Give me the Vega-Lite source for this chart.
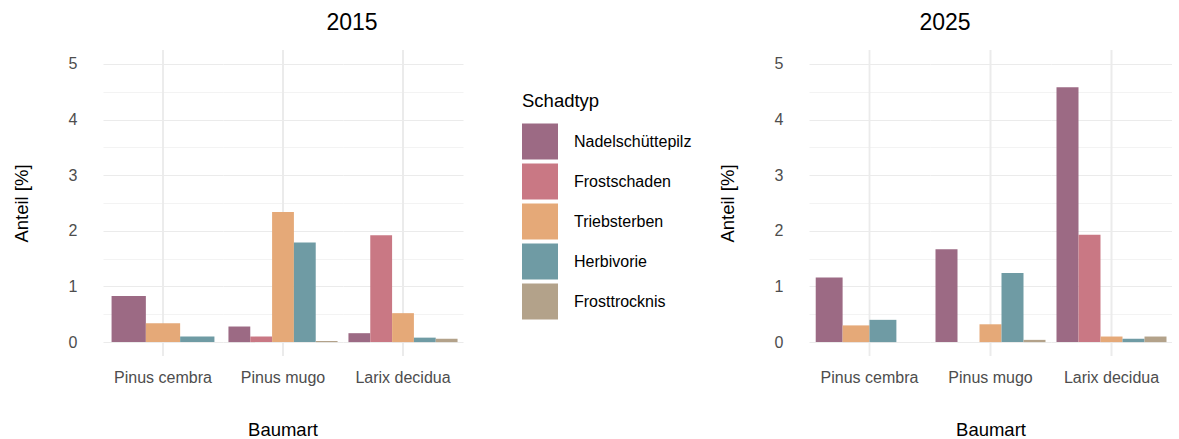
{
  "$schema": "https://vega.github.io/schema/vega-lite/v6.json",
  "background": "white",
  "padding": {"left": 12, "top": 12, "right": 0, "bottom": 0},
  "config": {
    "font": "Liberation Sans",
    "view": {"stroke": null},
    "title": {"fontSize": 23, "fontWeight": "normal", "color": "black", "anchor": "middle", "offset": 14}
  },
  "data": {
    "values": [
      {"Jahr": 2015, "Baumart": "Pinus cembra", "Schadtyp": "Nadelschüttepilz", "Anteil": 0.83},
      {"Jahr": 2015, "Baumart": "Pinus cembra", "Schadtyp": "Triebsterben", "Anteil": 0.34},
      {"Jahr": 2015, "Baumart": "Pinus cembra", "Schadtyp": "Herbivorie", "Anteil": 0.1},
      {"Jahr": 2015, "Baumart": "Pinus mugo", "Schadtyp": "Nadelschüttepilz", "Anteil": 0.28},
      {"Jahr": 2015, "Baumart": "Pinus mugo", "Schadtyp": "Frostschaden", "Anteil": 0.1},
      {"Jahr": 2015, "Baumart": "Pinus mugo", "Schadtyp": "Triebsterben", "Anteil": 2.34},
      {"Jahr": 2015, "Baumart": "Pinus mugo", "Schadtyp": "Herbivorie", "Anteil": 1.79},
      {"Jahr": 2015, "Baumart": "Pinus mugo", "Schadtyp": "Frosttrocknis", "Anteil": 0.02},
      {"Jahr": 2015, "Baumart": "Larix decidua", "Schadtyp": "Nadelschüttepilz", "Anteil": 0.16},
      {"Jahr": 2015, "Baumart": "Larix decidua", "Schadtyp": "Frostschaden", "Anteil": 1.92},
      {"Jahr": 2015, "Baumart": "Larix decidua", "Schadtyp": "Triebsterben", "Anteil": 0.52},
      {"Jahr": 2015, "Baumart": "Larix decidua", "Schadtyp": "Herbivorie", "Anteil": 0.08},
      {"Jahr": 2015, "Baumart": "Larix decidua", "Schadtyp": "Frosttrocknis", "Anteil": 0.06},
      {"Jahr": 2025, "Baumart": "Pinus cembra", "Schadtyp": "Nadelschüttepilz", "Anteil": 1.16},
      {"Jahr": 2025, "Baumart": "Pinus cembra", "Schadtyp": "Triebsterben", "Anteil": 0.3},
      {"Jahr": 2025, "Baumart": "Pinus cembra", "Schadtyp": "Herbivorie", "Anteil": 0.4},
      {"Jahr": 2025, "Baumart": "Pinus cembra", "Schadtyp": "Frosttrocknis", "Anteil": 0},
      {"Jahr": 2025, "Baumart": "Pinus mugo", "Schadtyp": "Nadelschüttepilz", "Anteil": 1.67},
      {"Jahr": 2025, "Baumart": "Pinus mugo", "Schadtyp": "Frostschaden", "Anteil": 0},
      {"Jahr": 2025, "Baumart": "Pinus mugo", "Schadtyp": "Triebsterben", "Anteil": 0.32},
      {"Jahr": 2025, "Baumart": "Pinus mugo", "Schadtyp": "Herbivorie", "Anteil": 1.24},
      {"Jahr": 2025, "Baumart": "Pinus mugo", "Schadtyp": "Frosttrocknis", "Anteil": 0.04},
      {"Jahr": 2025, "Baumart": "Larix decidua", "Schadtyp": "Nadelschüttepilz", "Anteil": 4.58},
      {"Jahr": 2025, "Baumart": "Larix decidua", "Schadtyp": "Frostschaden", "Anteil": 1.93},
      {"Jahr": 2025, "Baumart": "Larix decidua", "Schadtyp": "Triebsterben", "Anteil": 0.1},
      {"Jahr": 2025, "Baumart": "Larix decidua", "Schadtyp": "Herbivorie", "Anteil": 0.06},
      {"Jahr": 2025, "Baumart": "Larix decidua", "Schadtyp": "Frosttrocknis", "Anteil": 0.1}
    ]
  },
  "spacing": 26,
  "resolve": {"legend": {"color": "independent"}},
  "hconcat": [
    {
      "transform": [{"filter": "datum.Jahr === 2015"}],
      "title": {"text": "2015"},
      "facet": {
        "column": {
          "field": "Baumart", "type": "nominal",
          "sort": ["Pinus cembra", "Pinus mugo", "Larix decidua"],
          "header": {
            "title": "Baumart", "titleOrient": "bottom", "labelOrient": "bottom",
            "labelFontSize": 16, "labelColor": "#4D4D4D", "labelPadding": 13,
            "titleFontSize": 18.5, "titleColor": "black", "titleFontWeight": "normal", "titlePadding": 25
          }
        }
      },
      "spacing": 0,
      "resolve": {"scale": {"x": "independent"}},
      "spec": {
        "width": 120,
        "height": 306,
        "resolve": {"scale": {"x": "independent"}},
        "layer": [
          {
            "mark": {"type": "rule", "color": "#EBEBEB", "strokeWidth": 1.2},
            "encoding": {"x": {"field": "Baumart", "type": "nominal", "axis": null}}
          },
          {
            "mark": {"type": "bar"},
            "encoding": {
              "x": {
                "field": "Schadtyp", "type": "nominal", "axis": null,
                "sort": ["Nadelschüttepilz", "Frostschaden", "Triebsterben", "Herbivorie", "Frosttrocknis"],
                "scale": {"paddingInner": 0, "paddingOuter": 0.25}
              },
              "y": {
                "field": "Anteil", "type": "quantitative", "title": "Anteil [%]",
                "scale": {"domain": [-0.25, 5.25], "nice": false, "zero": false},
                "axis": {
                  "values": [0, 0.5, 1, 1.5, 2, 2.5, 3, 3.5, 4, 4.5, 5],
                  "format": "~g",
                  "labelExpr": "datum.value % 1 === 0 ? datum.label : ''",
                  "ticks": false, "domain": false, "labelPadding": 26,
                  "labelFontSize": 16, "labelColor": "#4D4D4D",
                  "gridColor": "#EBEBEB",
                  "gridWidth": {"condition": {"test": "datum.value % 1 === 0", "value": 1.2}, "value": 0.6},
                  "titleFontSize": 18.5, "titleFontWeight": "normal", "titleColor": "black", "titlePadding": 37
                }
              },
              "color": {
                "field": "Schadtyp", "type": "nominal",
                "scale": {
                  "domain": ["Nadelschüttepilz", "Frostschaden", "Triebsterben", "Herbivorie", "Frosttrocknis"],
                  "range": ["#9C6A84", "#C97884", "#E5A978", "#6F9BA4", "#B3A28A"]
                },
                "legend": {
                  "title": "Schadtyp", "titleFontSize": 18.5, "titleFontWeight": "normal", "titleColor": "black",
                  "titlePadding": 13,
                  "labelFontSize": 16, "labelColor": "black", "labelOffset": 16,
                  "symbolType": "square", "symbolSize": 1296, "symbolStrokeWidth": 0, "symbolOpacity": 1,
                  "rowPadding": 4,
                  "orient": "none", "legendX": 419, "legendY": 42
                }
              }
            }
          }
        ]
      }
    },
    {
      "transform": [{"filter": "datum.Jahr === 2025"}],
      "title": {"text": "2025"},
      "facet": {
        "column": {
          "field": "Baumart", "type": "nominal",
          "sort": ["Pinus cembra", "Pinus mugo", "Larix decidua"],
          "header": {
            "title": "Baumart", "titleOrient": "bottom", "labelOrient": "bottom",
            "labelFontSize": 16, "labelColor": "#4D4D4D", "labelPadding": 13,
            "titleFontSize": 18.5, "titleColor": "black", "titleFontWeight": "normal", "titlePadding": 25
          }
        }
      },
      "spacing": 0,
      "resolve": {"scale": {"x": "independent"}},
      "spec": {
        "width": 121,
        "height": 306,
        "resolve": {"scale": {"x": "independent"}},
        "layer": [
          {
            "mark": {"type": "rule", "color": "#EBEBEB", "strokeWidth": 1.2},
            "encoding": {"x": {"field": "Baumart", "type": "nominal", "axis": null}}
          },
          {
            "mark": {"type": "bar"},
            "encoding": {
              "x": {
                "field": "Schadtyp", "type": "nominal", "axis": null,
                "sort": ["Nadelschüttepilz", "Frostschaden", "Triebsterben", "Herbivorie", "Frosttrocknis"],
                "scale": {"paddingInner": 0, "paddingOuter": 0.25}
              },
              "y": {
                "field": "Anteil", "type": "quantitative", "title": "Anteil [%]",
                "scale": {"domain": [-0.25, 5.25], "nice": false, "zero": false},
                "axis": {
                  "values": [0, 0.5, 1, 1.5, 2, 2.5, 3, 3.5, 4, 4.5, 5],
                  "format": "~g",
                  "labelExpr": "datum.value % 1 === 0 ? datum.label : ''",
                  "ticks": false, "domain": false, "labelPadding": 26,
                  "labelFontSize": 16, "labelColor": "#4D4D4D",
                  "gridColor": "#EBEBEB",
                  "gridWidth": {"condition": {"test": "datum.value % 1 === 0", "value": 1.2}, "value": 0.6},
                  "titleFontSize": 18.5, "titleFontWeight": "normal", "titleColor": "black", "titlePadding": 37
                }
              },
              "color": {
                "field": "Schadtyp", "type": "nominal",
                "scale": {
                  "domain": ["Nadelschüttepilz", "Frostschaden", "Triebsterben", "Herbivorie", "Frosttrocknis"],
                  "range": ["#9C6A84", "#C97884", "#E5A978", "#6F9BA4", "#B3A28A"]
                },
                "legend": null
              }
            }
          }
        ]
      }
    }
  ]
}
